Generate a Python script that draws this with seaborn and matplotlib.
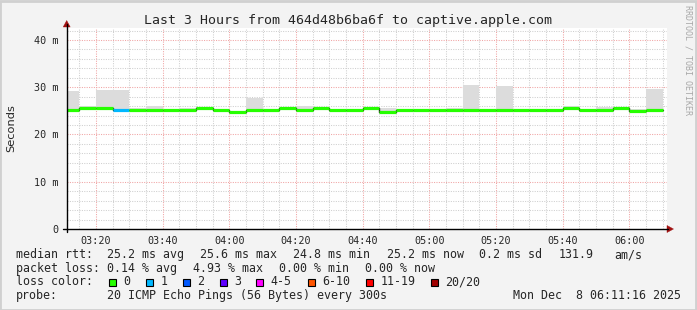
import numpy as np
import pandas as pd
import matplotlib
matplotlib.use("Agg")
import matplotlib.pyplot as plt
import seaborn as sns
from matplotlib.patches import Rectangle, Polygon
from matplotlib.lines import Line2D
from matplotlib.transforms import IdentityTransform

# ---------------- data ----------------
bin_start = ["03:10", "03:15", "03:20", "03:25", "03:30", "03:35", "03:40", "03:45",
             "03:50", "03:55", "04:00", "04:05", "04:10", "04:15", "04:20", "04:25",
             "04:30", "04:35", "04:40", "04:45", "04:50", "04:55", "05:00", "05:05",
             "05:10", "05:15", "05:20", "05:25", "05:30", "05:35", "05:40", "05:45",
             "05:50", "05:55", "06:00", "06:05"]
median_ms = [25.2, 25.6, 25.6, 25.2, 25.2, 25.2, 25.2, 25.2, 25.6, 25.2, 24.7, 25.2,
             25.2, 25.6, 25.2, 25.6, 25.2, 25.2, 25.6, 24.7, 25.2, 25.2, 25.2, 25.2,
             25.2, 25.2, 25.2, 25.2, 25.2, 25.2, 25.6, 25.2, 25.2, 25.6, 25.0, 25.2]
smoke_top_ms = [29.1, 26.0, 29.4, 29.4, 25.6, 26.0, 25.5, 25.7, 25.6, 25.5, 24.9, 27.7,
                25.4, 25.7, 26.0, 25.7, 25.4, 25.4, 25.7, 25.6, 25.3, 25.3, 25.3, 25.6,
                30.4, 25.3, 30.2, 25.3, 25.3, 25.3, 26.0, 25.3, 25.8, 25.7, 25.4, 29.6]
loss_pings = [0, 0, 0, 1, 0, 0, 0, 0, 0, 0, 0, 0, 0, 0, 0, 0, 0, 0,
              0, 0, 0, 0, 0, 0, 0, 0, 0, 0, 0, 0, 0, 0, 0, 0, 0, 0]
window_start = "03:11:16"
window_end = "06:11:16"
x_tick_labels = ["03:20", "03:40", "04:00", "04:20", "04:40", "05:00", "05:20", "05:40", "06:00"]
y_tick_values = [0, 10, 20, 30, 40]
y_tick_labels = ["0", "10 m", "20 m", "30 m", "40 m"]
loss_levels = ["0", "1", "2", "3", "4-5", "6-10", "11-19", "20/20"]
loss_colors = ["#26ff00", "#00b8ff", "#0059ff", "#5e00ff", "#ff00ff", "#ff5500", "#ff0000", "#a10000"]
title = "Last 3 Hours from 464d48b6ba6f to captive.apple.com"
stats_rtt = ["median rtt:", "25.2 ms avg", "25.6 ms max", "24.8 ms min", "25.2 ms now",
             "0.2 ms sd", "131.9", "am/s"]
stats_loss = ["packet loss:", "0.14 % avg", "4.93 % max", "0.00 % min", "0.00 % now"]
probe_text = ["probe:", "20 ICMP Echo Pings (56 Bytes) every 300s"]
date_text = "Mon Dec  8 06:11:16 2025"


def tmin(s):
    parts = [int(p) for p in s.split(":")]
    v = (parts[0] - 3) * 60 + parts[1]
    if len(parts) > 2:
        v += parts[2] / 60.0
    return v


def loss_index(n):
    if n <= 3:
        return n
    if n <= 5:
        return 4
    if n <= 10:
        return 5
    if n <= 19:
        return 6
    return 7


STEP = 5.0
starts = np.array([tmin(s) for s in bin_start], dtype=float)
med = np.array(median_ms)
top = np.array(smoke_top_ms)

# ---------------- figure ----------------
sns.set_style("white")
plt.rcParams['font.family'] = ['DejaVu Sans Mono']
W, H = 697, 310
BG = "#f3f3f3"
fig = plt.figure(figsize=(W / 100, H / 100), dpi=100, facecolor=BG)

L, R, T, B = 66.7, 667.0, 27.7, 229.0
ax = fig.add_axes([L / W, 1 - B / H, (R - L) / W, (B - T) / H])
ax.set_facecolor("white")

x0, x1 = tmin(window_start), tmin(window_end)
ax.set_xlim(x0, x1)
ax.set_ylim(0, 42.6)

# grid
minor_x = np.arange(15, x1, 5)
major_x = [tmin(s) for s in x_tick_labels]
for xv in minor_x:
    if xv not in major_x:
        ax.axvline(xv, color="#cfcfcf", lw=0.75, ls=(0, (1, 1.3)), zorder=0)
for xv in major_x:
    ax.axvline(xv, color="#f0a4a4", lw=0.75, ls=(0, (1, 1.3)), zorder=0.5)
for yv in np.arange(2, 42.6, 2):
    if yv % 10 != 0:
        ax.axhline(yv, color="#cfcfcf", lw=0.75, ls=(0, (1, 1.3)), zorder=0)
for yv in y_tick_values[1:]:
    ax.axhline(yv, color="#f0a4a4", lw=0.75, ls=(0, (1, 1.3)), zorder=0.5)

# smoke
h = top - med
mask = h > 0
ax.bar(starts[mask], h[mask], bottom=med[mask], width=STEP, align="edge",
       color="#dcdcdc", linewidth=0, zorder=1)

# median step line (dark connectors) + coloured segments
df = pd.DataFrame({"t": np.append(starts, starts[-1] + STEP),
                   "ms": np.append(med, med[-1])})
sns.lineplot(data=df, x="t", y="ms", drawstyle="steps-post", color="#202020",
             lw=1.0, estimator=None, sort=False, ax=ax, zorder=2)
seg_colors = [loss_colors[loss_index(n)] for n in loss_pings]
ax.hlines(med, starts, starts + STEP, colors=seg_colors, lw=2.3, zorder=3)

ax.set_xlabel("")
ax.set_ylabel("")
ax.set_xticks(major_x)
ax.set_xticklabels(x_tick_labels, fontsize=7.3)
ax.set_yticks(y_tick_values)
ax.set_yticklabels(y_tick_labels, fontsize=7.3)
ax.tick_params(axis="x", length=0, pad=5)
ax.tick_params(axis="y", length=3, width=0.8, direction="out", pad=3, color="black")
for s in ax.spines.values():
    s.set_visible(False)

# axes lines with arrows (pixel coords)
ID = IdentityTransform()


def P(x, y):
    return (x, H - y)


AX_COL = "#000000"
ARR = "#a01010"
fig.add_artist(Line2D([P(63, B)[0], P(668, B)[0]], [P(63, B)[1], P(668, B)[1]],
                      color=AX_COL, lw=1.0, transform=ID))
fig.add_artist(Line2D([P(L, B + 3)[0], P(L, 24)[0]], [P(L, B + 3)[1], P(L, 24)[1]],
                      color=AX_COL, lw=1.0, transform=ID))
fig.add_artist(Polygon([P(667, B - 3.5), P(667, B + 3.5), P(673.5, B)], closed=True,
                       facecolor=ARR, edgecolor=ARR, lw=0.3, transform=ID))
fig.add_artist(Polygon([P(L - 3.5, 27), P(L + 3.5, 27), P(L, 20.5)], closed=True,
                       facecolor=ARR, edgecolor=ARR, lw=0.3, transform=ID))

# border
fig.add_artist(Rectangle((0, 0), W - 1, H - 1, fill=False, edgecolor="#d0d0d0",
                         lw=2.0, transform=ID))

# texts
def ftext(x, y, s, **kw):
    fig.text(x / W, 1 - y / H, s, **kw)


ftext(347.7, 24, title, fontsize=9.5, ha="center", va="baseline")
ftext(11, 128, "Seconds", fontsize=8.2, rotation=90, ha="center", va="center",
      family=["DejaVu Sans"])
ftext(688, 60, "RRDTOOL / TOBI OETIKER", fontsize=6, rotation=270, ha="center",
      va="center", color="#a8a8a8")

FS = 8.4
rtt_x = [16, 107.3, 200, 293.3, 386.5, 479.3, 559, 614.3]
for xx, s in zip(rtt_x, stats_rtt):
    ftext(xx, 258, s, fontsize=FS, ha="left", va="baseline")
loss_x = [16, 107.3, 193.3, 279.3, 365]
for xx, s in zip(loss_x, stats_loss):
    ftext(xx, 271.7, s, fontsize=FS, ha="left", va="baseline")
ftext(16, 285.3, "loss color:", fontsize=FS, ha="left", va="baseline")
sq_x = [108.7, 145.7, 182.7, 219.7, 256.3, 308.0, 365.7, 430.7]
for xx, lab, col in zip(sq_x, loss_levels, loss_colors):
    fig.add_artist(Rectangle(P(xx, 285.7), 7, 7, facecolor=col, edgecolor="black",
                             lw=0.8, transform=ID))
    ftext(xx + 14.5, 285.3, lab, fontsize=FS, ha="left", va="baseline")
ftext(16, 299, probe_text[0], fontsize=FS, ha="left", va="baseline")
ftext(107.3, 299, probe_text[1], fontsize=FS, ha="left", va="baseline")
ftext(681, 299, date_text, fontsize=FS, ha="right", va="baseline")

fig.savefig("out.png", dpi=100, facecolor=BG)
